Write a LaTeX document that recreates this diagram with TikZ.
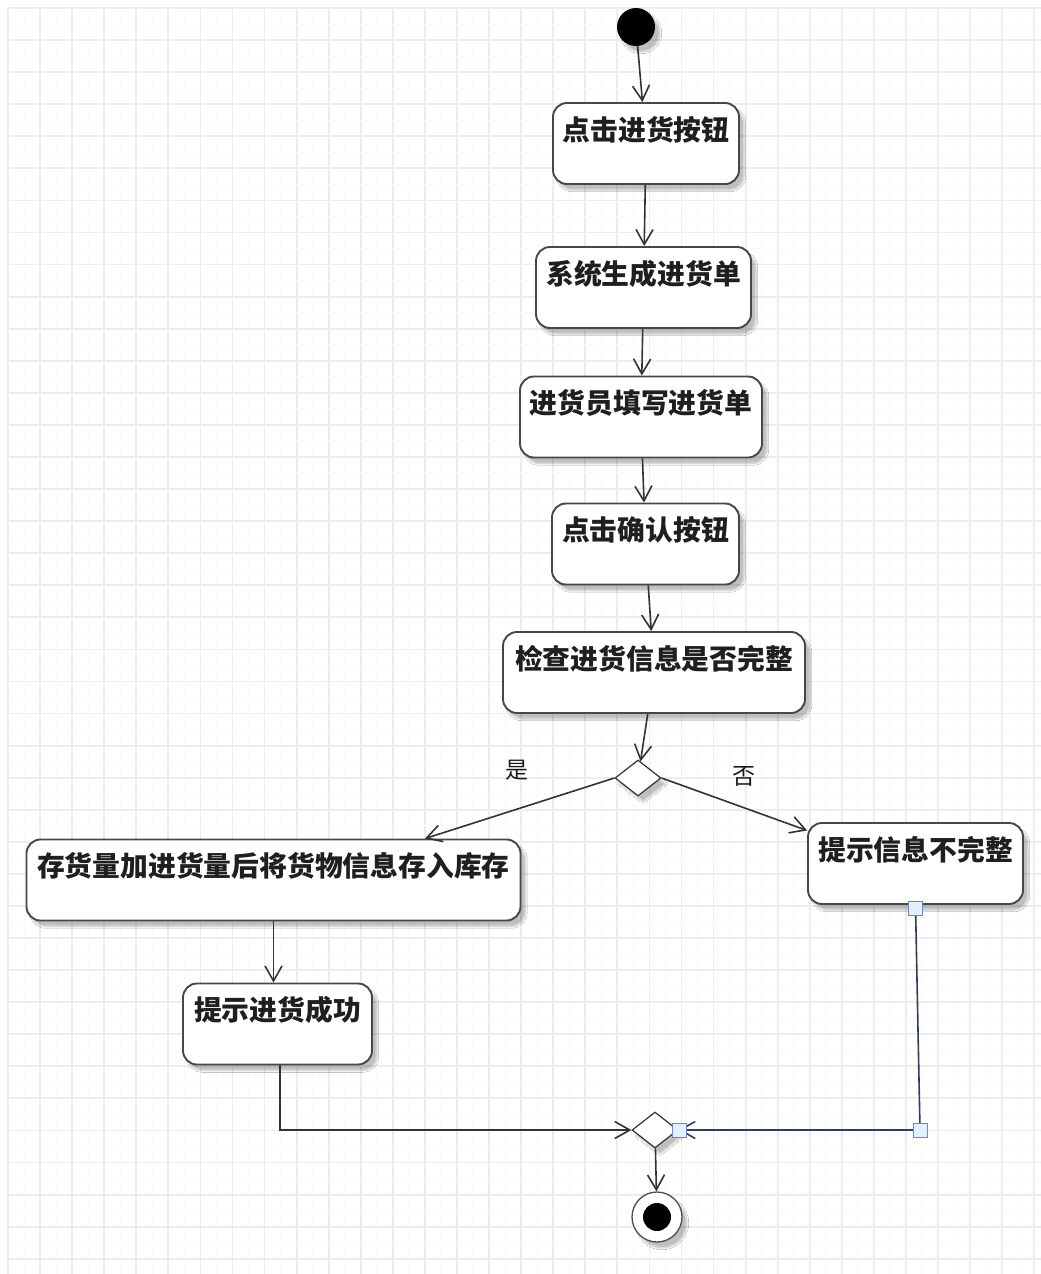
\documentclass[tikz,border=0pt]{standalone}
\usepackage{fontspec}
\newfontfamily\cjk{Noto Sans CJK SC}
\usetikzlibrary{arrows.meta,shapes.geometric,shadows.blur,calc}
\definecolor{gridmajor}{HTML}{EDEDED}
\definecolor{gridminor}{HTML}{FAFAFA}
\definecolor{edge}{HTML}{333333}
\definecolor{selline}{HTML}{2E3D5C}
\definecolor{handlefill}{HTML}{E3F1FF}
\definecolor{handledraw}{HTML}{5A8ED6}
\begin{document}
\begin{tikzpicture}[x=1pt,y=-1pt,
  softshadow/.style={blur shadow={shadow xshift=5pt,shadow yshift=-6pt,shadow opacity=25,shadow blur steps=6}},
  act/.style={rectangle,draw=black!72,line width=1.9pt,rounded corners=14pt,fill=white,
    inner xsep=0pt,inner ysep=0pt,text height=37pt,text depth=44pt,text=black!88,
    font=\cjk\bfseries\fontsize{27.8pt}{27.8pt}\selectfont,softshadow},
  decision/.style={diamond,draw=black!80,line width=1.2pt,fill=white,inner sep=0pt,
    aspect=1.28,minimum width=46pt,minimum height=36pt,softshadow},
  guard/.style={font=\cjk\fontsize{23pt}{23pt}\selectfont,text=black!90,inner sep=0pt},
  flow/.style={draw=edge,line width=1.6pt,-{Straight Barb[length=15pt,width=17pt]}},
  selflow/.style={draw=selline,line width=1.6pt,-{Straight Barb[length=15pt,width=17pt]}},
  handle/.style={rectangle,draw=handledraw,fill=handlefill,line width=1pt,minimum size=14pt,inner sep=0pt},
]
% canvas and grid
\useasboundingbox (0,0) rectangle (1041,1274);
\fill[white] (0,0) rectangle (1041,1274);
\foreach \i in {0,...,32} {
  \draw[gridminor,line width=1pt] (8+\i*32.07+16,8) -- (8+\i*32.07+16,1274);
  \draw[gridmajor,line width=1.8pt] (8+\i*32.07,8) -- (8+\i*32.07,1274);
}
\foreach \j in {0,...,39} {
  \draw[gridminor,line width=1pt] (8,8+\j*32.07+16) -- (1041,8+\j*32.07+16);
  \draw[gridmajor,line width=1.8pt] (8,8+\j*32.07) -- (1041,8+\j*32.07);
}

% start and end
\node[circle,fill=black,minimum size=38pt,inner sep=0pt,softshadow] (start) at (636,27) {};
\node[circle,draw=black!70,line width=1.3pt,fill=white,minimum size=50pt,inner sep=0pt,softshadow,
  path picture={\fill[black] (path picture bounding box.center) circle (14pt);}] (end) at (657,1217) {};

% actions
\node[act,minimum width=186pt] (b1) at (646,143.5) {点击进货按钮};
\node[act,minimum width=215pt] (b2) at (643.5,287.5) {系统生成进货单};
\node[act,minimum width=242pt] (b3) at (641,417) {进货员填写进货单};
\node[act,minimum width=187pt] (b4) at (645.5,544) {点击确认按钮};
\node[act,minimum width=302pt] (b5) at (654,672.5) {检查进货信息是否完整};
\node[act,minimum width=494pt] (b6) at (273.5,880) {存货量加进货量后将货物信息存入库存};
\node[act,minimum width=215pt] (b7) at (915.5,863.5) {提示信息不完整};
\node[act,minimum width=189pt] (b8) at (277.5,1024) {提示进货成功};

% decision and merge
\node[decision] (dec) at (638,778) {};
\node[decision] (m) at (655,1130) {};

% guards
\node[guard] (gyes) at (517,770) {是};
\node[guard] (gno) at (744,776) {否};

% control flow
\draw[flow] (start) -- (b1);
\draw[flow] (b1) -- (b2);
\draw[flow] (b2) -- (b3);
\draw[flow] (b3) -- (b4);
\draw[flow] (b4) -- (b5);
\draw[flow] (b5) -- (dec);
\draw[flow] (dec.west) -- ([xshift=151.5pt]b6.north);
\draw[flow] (dec.east) -- ([yshift=33pt]b7.west);
\draw[flow] (b6.south) -- (b6.south |- b8.north);
\draw[flow] ([xshift=2.5pt]b8.south) |- (m.west);
\coordinate (c1) at (920,1130);
\draw[selflow] (b7.south) -- (c1) -- (m.east);
\draw[flow] (m) -- (end);

% selection handles
\node[handle] (h1) at ([yshift=-4pt]b7.south) {};
\node[handle] (h2) at (c1) {};
\node[handle] (h3) at ([xshift=1pt]m.east) {};
\end{tikzpicture}
\end{document}
